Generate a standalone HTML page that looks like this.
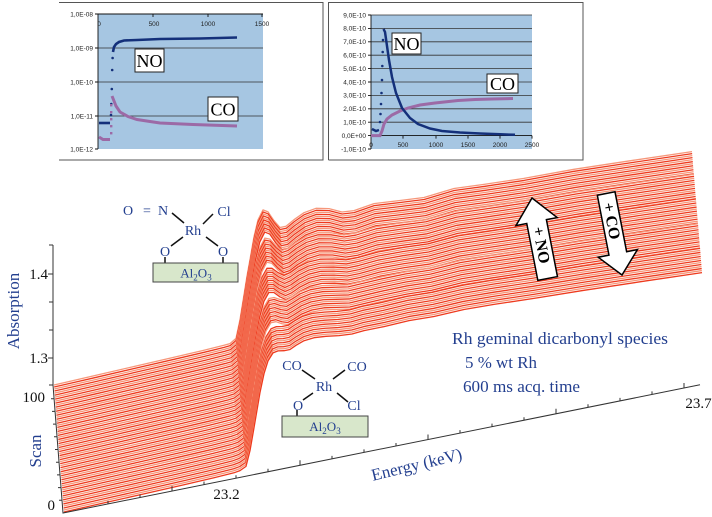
<!DOCTYPE html>
<html><head><meta charset="utf-8"><style>
html,body{margin:0;padding:0;background:#fff}
svg{display:block}
.r{stroke:#ee3a1e}.s{stroke:#f6977a}
.tk{font-family:"Liberation Sans",sans-serif;font-size:6.5px;fill:#222}
.sf{font-family:"Liberation Serif",serif}
.bl{fill:#233f8f}
</style></head><body>
<svg width="712" height="517" viewBox="0 0 712 517" xmlns="http://www.w3.org/2000/svg">
<rect width="712" height="517" fill="#fff"/>
<defs>
<path id="A" d="M64,512 L104,502.9 L144,493.9 L184,484.8 L214,477.8 L234,472.8 L240,470.6 L246,466.4 L250,450.6 L254,427.8 L257,410.1 L260,392.5 L264,373.7 L268,360.9 L273,352.9 L278,350.9 L284,350.7 L290,349.5 L296,345.3 L304,340.7 L314,337.7 L326,336.3 L339,335.6 L352,334 L364,330.6 L384,326.6 L409,320.6 L434,316.5 L464,309.5 L494,304.4 L534,298.4 L584,290.3 L644,281.2 L702,272.6"/>
<path id="AB" d="M64,512 L104,502.9 L144,493.8 L184,484.65 L214,477.65 L234,472.65 L240,470.6 L246,466.15 L250,449.6 L254,426.3 L257,408.35 L260,391 L264,371.2 L268,357.4 L273,348.9 L278,347.9 L284,349.95 L290,350.75 L296,347.3 L304,342.2 L314,338.2 L326,336.05 L339,335.6 L352,335.25 L364,332.35 L384,327.6 L409,322.35 L434,318.5 L464,311 L494,306.15 L534,300.15 L584,291.8 L644,282.7 L702,274.1"/>
<path id="B" d="M64,512 L104,502.9 L144,493.7 L184,484.5 L214,477.5 L234,472.5 L240,470.6 L246,465.9 L250,448.6 L254,424.8 L257,406.6 L260,389.5 L264,368.7 L268,353.9 L273,344.9 L278,344.9 L284,349.2 L290,352 L296,349.3 L304,343.7 L314,338.7 L326,335.8 L339,335.6 L352,336.5 L364,334.1 L384,328.6 L409,324.1 L434,320.5 L464,312.5 L494,307.9 L534,301.9 L584,293.3 L644,284.2 L702,275.6"/>
<path id="BC" d="M64,512 L104,502.85 L144,493.6 L184,484.4 L214,477.4 L234,472.4 L240,470.6 L246,465.65 L250,447.6 L254,423.3 L257,404.85 L260,388 L264,366.2 L268,350.4 L273,340.9 L278,341.9 L284,348.45 L290,353.25 L296,351.3 L304,345.2 L314,339.2 L326,335.55 L339,335.6 L352,337.75 L364,335.85 L384,329.6 L409,325.85 L434,322.5 L464,314 L494,309.65 L534,303.65 L584,294.8 L644,285.7 L702,277.1"/>
<path id="C" d="M64,512 L104,502.8 L144,493.5 L184,484.3 L214,477.3 L234,472.3 L240,470.6 L246,465.4 L250,446.6 L254,421.8 L257,403.1 L260,386.5 L264,363.7 L268,346.9 L273,336.9 L278,338.9 L284,347.7 L290,354.5 L296,353.3 L304,346.7 L314,339.7 L326,335.3 L339,335.6 L352,339 L364,337.6 L384,330.6 L409,327.6 L434,324.5 L464,315.5 L494,311.4 L534,305.4 L584,296.3 L644,287.2 L702,278.6"/>
</defs>

<!-- ============ INSET 1 ============ -->
<g>
<path d="M59,2.5 H323 V160 H59" fill="none" stroke="#555" stroke-width="1"/>
<rect x="98" y="14" width="165" height="135" fill="#a6c6e2"/>
<path d="M98,48 H263 M98,82 H263 M98,116 H263" stroke="#333" stroke-width="0.8"/>
<path d="M98,14 H263 M98,14 V149 M95,14 H98 M95,48 H98 M95,82 H98 M95,116 H98 M95,149 H98 M98,14 v3 M153,14 v3 M208,14 v3 M262,14 v3" stroke="#111" stroke-width="0.9" fill="none"/>
<g class="tk" text-anchor="end">
<text x="93" y="16.5">1,0E-08</text>
<text x="93" y="50.5">1,0E-09</text>
<text x="93" y="84.5">1,0E-10</text>
<text x="93" y="118.5">1,0E-11</text>
<text x="93" y="151.5">1,0E-12</text>
</g>
<g class="tk" text-anchor="middle">
<text x="99" y="26">0</text>
<text x="154" y="26">500</text>
<text x="208" y="26">1000</text>
<text x="262" y="26">1500</text>
</g>
<polyline points="99,123 110,123" fill="none" stroke="#14307a" stroke-width="2.6"/>
<g fill="#14307a">
<circle cx="111" cy="115" r="1.3"/><circle cx="111.3" cy="104" r="1.3"/><circle cx="111.8" cy="89" r="1.3"/><circle cx="112.2" cy="70" r="1.3"/><circle cx="112.6" cy="58" r="1.3"/>
</g>
<polyline points="113,52 114,47 116,44 119,42 124,40.5 137,40 160,39 200,38.5 237,37.5" fill="none" stroke="#14307a" stroke-width="2.6"/>
<polyline points="99,137 103,139.5 110,139.5" fill="none" stroke="#9c6aa6" stroke-width="3"/>
<g fill="#9c6aa6">
<rect x="110" y="132" width="2.4" height="2.4"/><rect x="110" y="125" width="2.4" height="2.4"/><rect x="110" y="118" width="2.4" height="2.4"/><rect x="110" y="111" width="2.4" height="2.4"/><rect x="110" y="104" width="2.4" height="2.4"/>
</g>
<polyline points="112,96 114,101 116,106 120,112 128,116.5 137,119.5 150,121.5 160,123 193,124.5 237,126" fill="none" stroke="#9c6aa6" stroke-width="3"/>
<rect x="135" y="49" width="29" height="23" fill="#fff" stroke="#222" stroke-width="1"/>
<text x="149.5" y="67" text-anchor="middle" class="sf" font-size="18" fill="#000">NO</text>
<rect x="208" y="97" width="30" height="24" fill="#fff" stroke="#222" stroke-width="1"/>
<text x="223" y="115.5" text-anchor="middle" class="sf" font-size="18" fill="#000">CO</text>
</g>

<!-- ============ INSET 2 ============ -->
<g>
<path d="M328.5,160 V2.5 H583 V160 H328.5" fill="none" stroke="#555" stroke-width="1"/>
<rect x="371" y="15" width="161" height="134" fill="#a6c6e2"/>
<path d="M371,15 H532 M371,28.4 H532 M371,41.8 H532 M371,55.2 H532 M371,68.6 H532 M371,82 H532 M371,95.4 H532 M371,108.8 H532 M371,122.2 H532" stroke="#333" stroke-width="0.8"/>
<path d="M371,135.6 H532 M371,15 V149 M368,15 H371 M368,28.4 H371 M368,41.8 H371 M368,55.2 H371 M368,68.6 H371 M368,82 H371 M368,95.4 H371 M368,108.8 H371 M368,122.2 H371 M368,135.6 H371 M368,149 H371 M403,135.6 v3 M436,135.6 v3 M468,135.6 v3 M500,135.6 v3 M532,135.6 v3" stroke="#111" stroke-width="0.9" fill="none"/>
<g class="tk" text-anchor="end">
<text x="366" y="17.3">9,0E-10</text>
<text x="366" y="30.7">8,0E-10</text>
<text x="366" y="44.1">7,0E-10</text>
<text x="366" y="57.5">6,0E-10</text>
<text x="366" y="70.9">5,0E-10</text>
<text x="366" y="84.3">4,0E-10</text>
<text x="366" y="97.7">3,0E-10</text>
<text x="366" y="111.1">2,0E-10</text>
<text x="366" y="124.5">1,0E-10</text>
<text x="366" y="137.9">0,0E+00</text>
<text x="366" y="151.3">-1,0E-10</text>
</g>
<g class="tk" text-anchor="middle">
<text x="371" y="147">0</text>
<text x="403" y="147">500</text>
<text x="436" y="147">1000</text>
<text x="468" y="147">1500</text>
<text x="500" y="147">2000</text>
<text x="532" y="147">2500</text>
</g>
<polyline points="371,135.6 380,135.6 382,131 384,124 387,119 392,115 400,111 408,108 420,105 435,103 458,100.5 475,99.5 492,99 513,98.5" fill="none" stroke="#9c6aa6" stroke-width="3"/>
<polyline points="372,129 376,131 379,130" fill="none" stroke="#14307a" stroke-width="2.5"/>
<g fill="#14307a">
<circle cx="380" cy="122" r="1.3"/><circle cx="380.5" cy="114" r="1.3"/><circle cx="381" cy="104" r="1.3"/><circle cx="381.5" cy="93" r="1.3"/><circle cx="382" cy="80" r="1.3"/><circle cx="382.3" cy="66" r="1.3"/><circle cx="382.7" cy="52" r="1.3"/><circle cx="383" cy="40" r="1.3"/>
</g>
<polyline points="383.5,29 385,32 387,46 389,60 392,77 396,93 402,108 410,118 418,124 430,128.5 442,131 460,132.5 480,133.5 500,134.3 515,134.8" fill="none" stroke="#14307a" stroke-width="2.5"/>
<rect x="392" y="33" width="29" height="21" fill="#fff" stroke="#222" stroke-width="1"/>
<text x="406.5" y="50" text-anchor="middle" class="sf" font-size="18" fill="#000">NO</text>
<rect x="487" y="74" width="31" height="19" fill="#fff" stroke="#222" stroke-width="1"/>
<text x="502.5" y="90" text-anchor="middle" class="sf" font-size="18" fill="#000">CO</text>
</g>

<!-- ============ SURFACE ============ -->
<g fill="none" stroke-width="1.3" stroke-linejoin="round">
<use href="#C" x="-10" y="-127" class="s"/>
<use href="#C" x="-9.84" y="-124.98" class="r"/>
<use href="#C" x="-9.68" y="-122.97" class="s"/>
<use href="#C" x="-9.52" y="-120.95" class="r"/>
<use href="#C" x="-9.37" y="-118.94" class="s"/>
<use href="#C" x="-9.21" y="-116.92" class="r"/>
<use href="#C" x="-9.05" y="-114.9" class="s"/>
<use href="#C" x="-8.89" y="-112.89" class="r"/>
<use href="#C" x="-8.73" y="-110.87" class="s"/>
<use href="#C" x="-8.57" y="-108.86" class="r"/>
<use href="#C" x="-8.41" y="-106.84" class="s"/>
<use href="#C" x="-8.25" y="-104.83" class="r"/>
<use href="#BC" x="-8.1" y="-102.81" class="s"/>
<use href="#BC" x="-7.94" y="-100.79" class="r"/>
<use href="#BC" x="-7.78" y="-98.78" class="s"/>
<use href="#BC" x="-7.62" y="-96.76" class="r"/>
<use href="#BC" x="-7.46" y="-94.75" class="s"/>
<use href="#BC" x="-7.3" y="-92.73" class="r"/>
<use href="#BC" x="-7.14" y="-90.71" class="s"/>
<use href="#BC" x="-6.98" y="-88.7" class="r"/>
<use href="#BC" x="-6.83" y="-86.68" class="s"/>
<use href="#BC" x="-6.67" y="-84.67" class="r"/>
<use href="#BC" x="-6.51" y="-82.65" class="s"/>
<use href="#BC" x="-6.35" y="-80.63" class="r"/>
<use href="#BC" x="-6.19" y="-78.62" class="s"/>
<use href="#B" x="-6.03" y="-76.6" class="r"/>
<use href="#B" x="-5.87" y="-74.59" class="s"/>
<use href="#B" x="-5.71" y="-72.57" class="r"/>
<use href="#B" x="-5.56" y="-70.56" class="s"/>
<use href="#B" x="-5.4" y="-68.54" class="r"/>
<use href="#B" x="-5.24" y="-66.52" class="s"/>
<use href="#B" x="-5.08" y="-64.51" class="r"/>
<use href="#B" x="-4.92" y="-62.49" class="s"/>
<use href="#B" x="-4.76" y="-60.48" class="r"/>
<use href="#B" x="-4.6" y="-58.46" class="s"/>
<use href="#B" x="-4.44" y="-56.44" class="r"/>
<use href="#B" x="-4.29" y="-54.43" class="s"/>
<use href="#B" x="-4.13" y="-52.41" class="r"/>
<use href="#AB" x="-3.97" y="-50.4" class="s"/>
<use href="#AB" x="-3.81" y="-48.38" class="r"/>
<use href="#AB" x="-3.65" y="-46.37" class="s"/>
<use href="#AB" x="-3.49" y="-44.35" class="r"/>
<use href="#AB" x="-3.33" y="-42.33" class="s"/>
<use href="#AB" x="-3.17" y="-40.32" class="r"/>
<use href="#AB" x="-3.02" y="-38.3" class="s"/>
<use href="#AB" x="-2.86" y="-36.29" class="r"/>
<use href="#AB" x="-2.7" y="-34.27" class="s"/>
<use href="#AB" x="-2.54" y="-32.25" class="r"/>
<use href="#AB" x="-2.38" y="-30.24" class="s"/>
<use href="#AB" x="-2.22" y="-28.22" class="r"/>
<use href="#AB" x="-2.06" y="-26.21" class="s"/>
<use href="#A" x="-1.9" y="-24.19" class="r"/>
<use href="#A" x="-1.75" y="-22.17" class="s"/>
<use href="#A" x="-1.59" y="-20.16" class="r"/>
<use href="#A" x="-1.43" y="-18.14" class="s"/>
<use href="#A" x="-1.27" y="-16.13" class="r"/>
<use href="#A" x="-1.11" y="-14.11" class="s"/>
<use href="#A" x="-0.95" y="-12.1" class="r"/>
<use href="#A" x="-0.79" y="-10.08" class="s"/>
<use href="#A" x="-0.63" y="-8.06" class="r"/>
<use href="#A" x="-0.48" y="-6.05" class="s"/>
<use href="#A" x="-0.32" y="-4.03" class="r"/>
<use href="#A" x="-0.16" y="-2.02" class="s"/>
<use href="#A" x="0" y="0" class="r"/>
</g>

<!-- ============ AXES ============ -->
<g stroke="#333" stroke-width="1" fill="none">
<path d="M53,245 V385 L63,513 L700,384.8"/>
<path d="M53,245 h-4 M53,274 h-5 M53,302 h-4 M53,330 h-4 M53,358 h-5 M53,385 h-4"/>
<path d="M62,500.3 h-3 M61,487.6 h-3 M60,474.9 h-3 M59,462.2 h-3 M58,449.5 h-3 M57,436.8 h-3 M56,424.1 h-3 M55,411.4 h-3 M54,398.7 h-3"/>
<path d="M108,503.9 v-3 M140,497.5 v-3 M172,491.1 v-5 M204,484.6 v-3 M236,478.2 v-3 M268,471.7 v-3 M300,465.3 v-5 M332,458.9 v-3 M364,452.4 v-3 M396,446 v-3 M428,439.5 v-5 M460,433.1 v-3 M492,426.6 v-3 M524,420.2 v-3 M556,413.8 v-5 M588,407.3 v-3 M620,400.9 v-3 M652,394.4 v-3 M684,388 v-5"/>
</g>
<g class="sf" font-size="15" fill="#111">
<text x="48" y="279" text-anchor="end">1.4</text>
<text x="48" y="363" text-anchor="end">1.3</text>
<text x="45" y="402" text-anchor="end">100</text>
<text x="55" y="510" text-anchor="end">0</text>
<text x="226.5" y="499" text-anchor="middle">23.2</text>
<text x="698.5" y="408" text-anchor="middle">23.7</text>
</g>
<text transform="translate(19,311) rotate(-90)" text-anchor="middle" class="sf bl" font-size="17">Absorption</text>
<text transform="translate(41,451) rotate(-90)" text-anchor="middle" class="sf bl" font-size="17">Scan</text>
<text transform="translate(418,470) rotate(-13.5)" text-anchor="middle" class="sf bl" font-size="17">Energy (keV)</text>

<!-- ============ MOLECULE 1 ============ -->
<g class="sf bl" font-size="14" text-anchor="middle">
<text x="128" y="215">O</text>
<text x="147" y="215">=</text>
<text x="163" y="215">N</text>
<text x="224" y="216">Cl</text>
<text x="193" y="235">Rh</text>
<text x="165" y="256">O</text>
<text x="223" y="256">O</text>
</g>
<path d="M172,213 L184,223 M213,214 L203,224 M183,237 L171,246 M206,237 L218,246 M165,257 V263 M223,257 V263" stroke="#111" stroke-width="1.5"/>
<rect x="153" y="263" width="85" height="19" fill="#d8e7cb" stroke="#444" stroke-width="1"/>
<text x="196" y="277.5" text-anchor="middle" class="sf bl" font-size="13">Al<tspan font-size="9" dy="3">2</tspan><tspan dy="-3">O</tspan><tspan font-size="9" dy="3">3</tspan></text>

<!-- ============ MOLECULE 2 ============ -->
<g class="sf bl" font-size="14" text-anchor="middle">
<text x="292" y="370">CO</text>
<text x="357" y="371">CO</text>
<text x="324" y="391">Rh</text>
<text x="298" y="410">O</text>
<text x="354" y="410">Cl</text>
</g>
<path d="M302,370 L315,379 M345,370 L333,379 M313,393 L303,400 M337,393 L348,402 M297,410 V417" stroke="#111" stroke-width="1.5"/>
<rect x="282" y="416" width="86" height="21" fill="#d8e7cb" stroke="#444" stroke-width="1"/>
<text x="325" y="431" text-anchor="middle" class="sf bl" font-size="13">Al<tspan font-size="9" dy="3">2</tspan><tspan dy="-3">O</tspan><tspan font-size="9" dy="3">3</tspan></text>

<!-- ============ TEXT BLOCK ============ -->
<g class="sf bl" font-size="17">
<text x="452" y="344" textLength="216" lengthAdjust="spacingAndGlyphs">Rh geminal dicarbonyl species</text>
<text x="465" y="368" textLength="72" lengthAdjust="spacingAndGlyphs">5 % wt Rh</text>
<text x="463" y="392" textLength="117" lengthAdjust="spacingAndGlyphs">600 ms acq. time</text>
</g>

<!-- ============ ARROWS ============ -->
<g transform="translate(532,198) rotate(-11)">
<polygon points="0,0 21,24 10,24 10,82 -10,82 -10,24 -21,24" fill="#fff" stroke="#000" stroke-width="1.5" stroke-linejoin="miter"/>
<text transform="translate(-5,48) rotate(90)" text-anchor="middle" class="sf" font-weight="bold" font-size="16" fill="#000">+ NO</text>
</g>
<g transform="translate(622,275) rotate(-11)">
<polygon points="0,0 -20,-22 -9,-22 -9,-83 9,-83 9,-22 20,-22" fill="#fff" stroke="#000" stroke-width="1.5"/>
<text transform="translate(-5,-55) rotate(90)" text-anchor="middle" class="sf" font-weight="bold" font-size="16" fill="#000">+ CO</text>
</g>
</svg>
</body></html>
